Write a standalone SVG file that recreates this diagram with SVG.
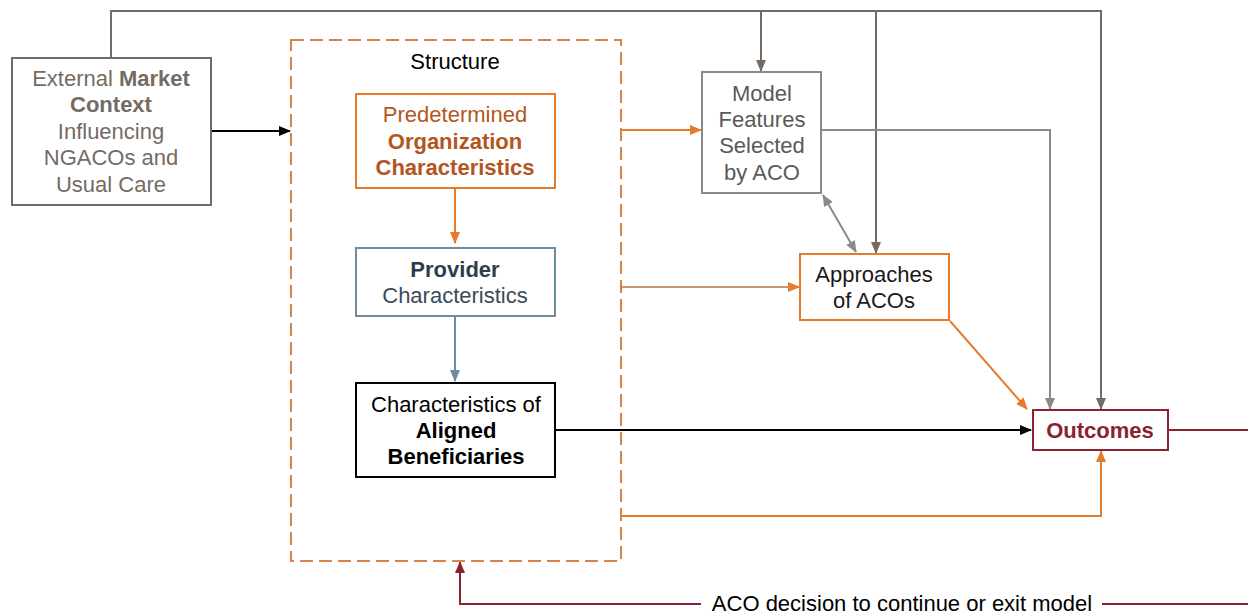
<svg xmlns="http://www.w3.org/2000/svg" width="1248" height="615" viewBox="0 0 1248 615">
<style>
text{font-family:"Liberation Sans",Arial,sans-serif;font-size:22px;text-anchor:middle}
.b{font-weight:bold}
.box{fill:#fff;stroke-width:2}
.ln{fill:none;stroke-width:2}
</style>
<defs>
<marker id="aBlk" markerUnits="userSpaceOnUse" markerWidth="12" markerHeight="10" refX="11" refY="5" orient="auto"><path d="M0,0L12,5L0,10z" fill="#000"/></marker>
<marker id="aOr" markerUnits="userSpaceOnUse" markerWidth="12" markerHeight="10" refX="11" refY="5" orient="auto"><path d="M0,0L12,5L0,10z" fill="#E57B2C"/></marker>
<marker id="aBl" markerUnits="userSpaceOnUse" markerWidth="12" markerHeight="10" refX="11" refY="5" orient="auto"><path d="M0,0L12,5L0,10z" fill="#6B8CA5"/></marker>
<marker id="aGr" markerUnits="userSpaceOnUse" markerWidth="12" markerHeight="10" refX="11" refY="5" orient="auto"><path d="M0,0L12,5L0,10z" fill="#756B63"/></marker>
<marker id="aLg" markerUnits="userSpaceOnUse" markerWidth="12" markerHeight="10" refX="11" refY="5" orient="auto"><path d="M0,0L12,5L0,10z" fill="#8A8A8A"/></marker>
<marker id="aLgS" markerUnits="userSpaceOnUse" markerWidth="12" markerHeight="10" refX="1" refY="5" orient="auto"><path d="M12,0L0,5L12,10z" fill="#8A8A8A"/></marker>
<marker id="aRd" markerUnits="userSpaceOnUse" markerWidth="12" markerHeight="10" refX="11" refY="5" orient="auto"><path d="M0,0L12,5L0,10z" fill="#8B2232"/></marker>
</defs>

<g id="connectors">
<path class="ln" d="M111,58V11H1101V409" stroke="#756B63" marker-end="url(#aGr)"/>
<path class="ln" d="M761,11V71" stroke="#756B63" marker-end="url(#aGr)"/>
<path class="ln" d="M876,11V253" stroke="#756B63" marker-end="url(#aGr)"/>
<path class="ln" d="M211,131H290" stroke="#000" marker-end="url(#aBlk)"/>
<path class="ln" d="M455,188V243" stroke="#E57B2C" marker-end="url(#aOr)"/>
<path class="ln" d="M455,316V381" stroke="#6B8CA5" marker-end="url(#aBl)"/>
<path class="ln" d="M622,130H701" stroke="#E57B2C" marker-end="url(#aOr)"/>
<path class="ln" d="M622,287H799" stroke="#C8957A" marker-end="url(#aOr)"/>
<path class="ln" d="M822,130H1050V409" stroke="#8A8A8A" marker-end="url(#aLg)"/>
<path class="ln" d="M823,195L856,252" stroke="#8A8A8A" marker-start="url(#aLgS)" marker-end="url(#aLg)"/>
<path class="ln" d="M950,321L1027,409" stroke="#E57B2C" marker-end="url(#aOr)"/>
<path class="ln" d="M556,430H1031" stroke="#000" marker-end="url(#aBlk)"/>
<path class="ln" d="M622,516H1101V451" stroke="#E57B2C" marker-end="url(#aOr)"/>
<path class="ln" d="M1169,430H1248" stroke="#8B2232"/>
<path class="ln" d="M1248,604H1102" stroke="#8B2232"/>
<path class="ln" d="M701,604H460V562" stroke="#8B2232" marker-end="url(#aRd)"/>
<text x="902" y="611" fill="#000">ACO decision to continue or exit model</text>
</g>

<g id="external">
<rect class="box" x="12" y="58" width="199" height="147" stroke="#756B63"/>
<text fill="#756B63"><tspan x="111" y="86">External <tspan class="b">Market</tspan></tspan><tspan x="111" y="112" class="b">Context</tspan><tspan x="111" y="139">Influencing</tspan><tspan x="111" y="165">NGACOs and</tspan><tspan x="111" y="192">Usual Care</tspan></text>
</g>

<g id="structure">
<rect x="291" y="40" width="330" height="521" fill="none" stroke="#D9834A" stroke-width="2" stroke-dasharray="13,6"/>
<text x="455" y="69" fill="#000">Structure</text>
</g>

<g id="predetermined">
<rect class="box" x="356" y="94" width="199" height="94" stroke="#E57B2C"/>
<text fill="#B3561E"><tspan x="455" y="122">Predetermined</tspan><tspan x="455" y="149" class="b">Organization</tspan><tspan x="455" y="175" class="b">Characteristics</tspan></text>
</g>

<g id="provider">
<rect class="box" x="356" y="248" width="199" height="68" stroke="#6B8CA5"/>
<text fill="#3A4A5A"><tspan x="455" y="277" class="b" fill="#2E3D4C">Provider</tspan><tspan x="455" y="303">Characteristics</tspan></text>
</g>

<g id="aligned">
<rect class="box" x="356" y="383" width="199" height="94" stroke="#000"/>
<text fill="#000"><tspan x="456" y="412">Characteristics of</tspan><tspan x="456" y="438" class="b">Aligned</tspan><tspan x="456" y="464" class="b">Beneficiaries</tspan></text>
</g>

<g id="model">
<rect class="box" x="702" y="72" width="119" height="121" stroke="#8A8A8A"/>
<text fill="#595959"><tspan x="762" y="101">Model</tspan><tspan x="762" y="127">Features</tspan><tspan x="762" y="153">Selected</tspan><tspan x="762" y="180">by ACO</tspan></text>
</g>

<g id="approaches">
<rect class="box" x="800" y="254" width="149" height="66" stroke="#E57B2C"/>
<text fill="#1A1A1A"><tspan x="874" y="282">Approaches</tspan><tspan x="874" y="308">of ACOs</tspan></text>
</g>

<g id="outcomes">
<rect class="box" x="1033" y="410" width="135" height="40" stroke="#8B2232"/>
<text x="1100" y="438" class="b" fill="#8B2232">Outcomes</text>
</g>
</svg>
